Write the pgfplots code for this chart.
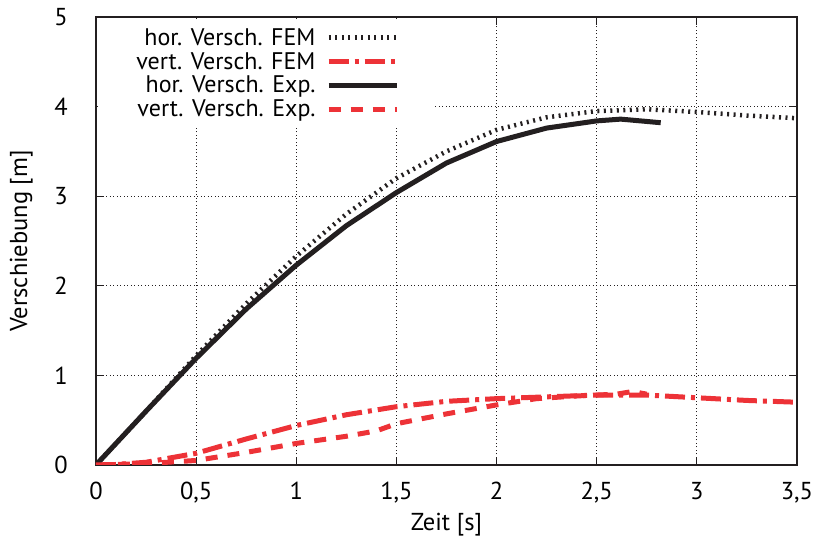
\documentclass[border=0pt]{standalone}
\usepackage{fontspec}
\setmainfont{PT Sans}
\usepackage{pgfplots}
\pgfplotsset{compat=1.18}

\definecolor{ink}{RGB}{35,31,32}
\definecolor{fred}{RGB}{237,50,55}

\begin{document}
\begin{tikzpicture}
\begin{axis}[
    at={(0pt,0pt)}, anchor=south west,
    scale only axis,
    width=701pt, height=448pt,
    xmin=0, xmax=3.5, ymin=0, ymax=5,
    xtick={0,0.5,1,1.5,2,2.5,3,3.5},
    xticklabels={0,{0,5},1,{1,5},2,{2,5},3,{3,5}},
    ytick={0,1,2,3,4,5},
    tick pos=both, tick align=inside,
    major tick length=8pt,
    tick style={ink, line width=1pt},
    axis line style={ink, line width=1.4pt},
    grid=major,
    grid style={ink, line width=0.8pt, dash pattern=on 1pt off 2.5pt},
    font=\fontsize{24.5}{28}\selectfont,
    xticklabel style={inner sep=0pt, yshift=-17pt},
    yticklabel style={inner sep=0pt, xshift=-28pt},
    /pgf/number format/assume math mode=true,
    xlabel={Zeit [s]},
    ylabel={Verschiebung [m]},
    xlabel style={at={(axis description cs:0.5,-0.108)}, anchor=north, inner sep=0pt},
    ylabel style={at={(axis description cs:-0.09,0.5)}, anchor=south, inner sep=0pt},
    legend style={at={(axis description cs:0.003,0.996)}, anchor=north west,
        draw=none, fill=white, inner xsep=36pt, inner ysep=9pt,
        font=\fontsize{24}{28}\selectfont, row sep=4.5pt, column sep=9pt,
        nodes={inner ysep=0.5pt}},
    legend cell align=right,
    legend plot pos=right,
    legend image code/.code={\draw[#1] (0pt,0pt) -- (58pt,0pt); \path (0pt,0pt) -- (68pt,0pt);},
]
\addplot[ink, line width=4.5pt, dash pattern=on 2pt off 4.5pt] coordinates {
    (0,0) (0.25,0.6) (0.5,1.22) (0.75,1.8) (1,2.33) (1.25,2.8) (1.5,3.2)
    (1.75,3.5) (2,3.74) (2.25,3.88) (2.5,3.95) (2.75,3.97) (3,3.94)
    (3.25,3.9) (3.5,3.87)
};
\addlegendentry{hor. Versch. FEM}
\addplot[fred, line width=5pt, dash pattern=on 20pt off 6pt on 4pt off 6pt] coordinates {
    (0,0) (0.1,0.005) (0.25,0.03) (0.5,0.13) (0.75,0.29) (1,0.44) (1.25,0.56)
    (1.5,0.65) (1.75,0.71) (2,0.74) (2.25,0.76) (2.5,0.78) (2.75,0.78)
    (3,0.75) (3.25,0.72) (3.5,0.70)
};
\addlegendentry{vert. Versch. FEM}
\addplot[ink, line width=5pt] coordinates {
    (0,0) (0.25,0.6) (0.5,1.19) (0.75,1.74) (1,2.23) (1.25,2.67) (1.5,3.04)
    (1.75,3.37) (2,3.61) (2.25,3.76) (2.5,3.84) (2.62,3.86) (2.72,3.84)
    (2.82,3.82)
};
\addlegendentry{hor. Versch. Exp.}
\addplot[fred, line width=5pt, dash pattern=on 12pt off 10pt] coordinates {
    (0,0) (0.25,0.015) (0.5,0.05) (0.75,0.14) (1,0.24) (1.25,0.32) (1.4,0.38)
    (1.5,0.46) (1.75,0.57) (2,0.67) (2.2,0.74) (2.4,0.77) (2.5,0.78)
    (2.6,0.79) (2.68,0.82) (2.75,0.79)
};
\addlegendentry{vert. Versch. Exp.}
\end{axis}
% page margins as in the reference
\path (-96pt,-78pt) rectangle (717pt,465pt);
\end{tikzpicture}
\end{document}
